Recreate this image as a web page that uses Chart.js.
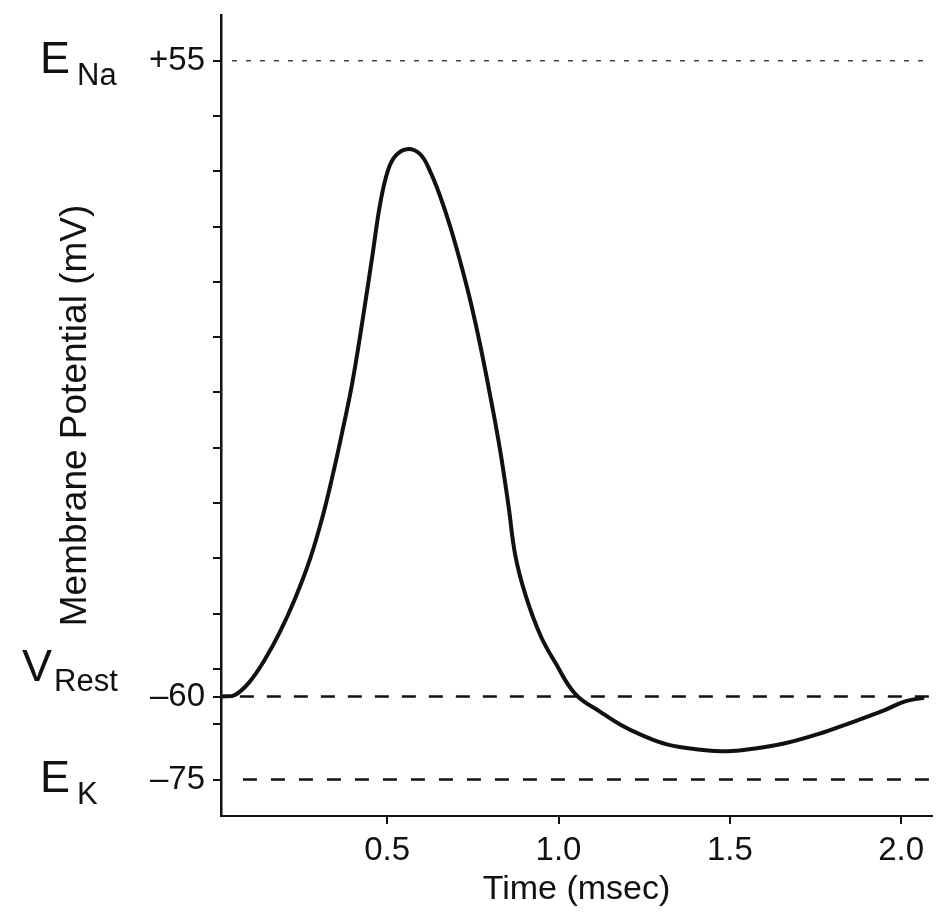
<!DOCTYPE html>
<html><head><meta charset="utf-8">
<script src="https://cdn.jsdelivr.net/npm/chart.js@4/dist/chart.umd.min.js"></script>
<style>html,body{margin:0;padding:0;background:#fff;}</style>
</head><body>
<canvas id="c" width="942" height="915"></canvas>
<script>
// ---- data ----
const timeMs = [0.018,0.056,0.099,0.143,0.187,0.231,0.275,0.310,0.339,0.368,0.398,0.427,0.456,0.480,0.503,0.526,0.558,
  0.596,0.626,0.655,0.684,0.713,0.743,0.772,0.801,0.830,0.854,0.874,0.904,0.947,0.991,1.050,
  1.123,1.181,1.240,1.319,1.415,1.494,1.561,1.658,1.757,1.854,1.950,2.009,2.067];
const membraneMv = [-60,-59.7,-57.3,-53.3,-48.3,-42.3,-35.1,-27.8,-20.5,-12.4,-3.3,7.6,19.4,29.3,35.3,37.9,39.0,
  38.1,34.9,30.4,25.0,18.7,11.5,3.4,-5.7,-15.6,-25.5,-34.5,-41.7,-48.9,-53.9,-59.6,
  -62.8,-65.1,-66.9,-68.7,-69.6,-69.9,-69.5,-68.5,-66.8,-64.7,-62.5,-60.9,-60.2];
const refNames = ['E', 'V', 'E'];
const refSubs = ['Na', 'Rest', 'K'];
const refValues = [55, -60, -75];
const refTickTexts = ['+55', '\u201360', '\u201375'];
const refLineStart = [0.047, 0.07, 0.079];
const refLineEnd = [2.088, 2.088, 2.088];
const xTickValues = [0.5, 1.0, 1.5, 2.0];
const yTickValues = [55,45,35,25,15,5,-5,-15,-25,-35,-45,-55,-60,-65,-75];
const xTitle = 'Time (msec)';
const yTitle = 'Membrane Potential (mV)';

const FAM = "'Liberation Sans', Arial, sans-serif";
const INK = '#111';

const refStyles = [
  {color:'#444', width:1.5, dash:[5,9]},
  {color:INK, width:2.5, dash:[14,13]},
  {color:INK, width:2.5, dash:[14,14]}
];

const datasets = [{
  data: timeMs.map((t,i)=>({x:t, y:membraneMv[i]})),
  borderColor: INK, borderWidth: 4, pointRadius: 0,
  tension: 0.4, fill: false
}];
refValues.forEach((v,i)=>{
  datasets.push({
    data: [{x:refLineStart[i], y:v}, {x:refLineEnd[i], y:v}],
    borderColor: refStyles[i].color, borderWidth: refStyles[i].width,
    borderDash: refStyles[i].dash, pointRadius: 0, fill: false, tension: 0
  });
});

const sideLabels = {
  id: 'sideLabels',
  afterDraw(chart) {
    const ctx = chart.ctx, ys = chart.scales.y;
    ctx.save();
    ctx.fillStyle = INK;
    ctx.textAlign = 'left';
    ctx.textBaseline = 'alphabetic';
    const xs = [40, 22, 40];
    refValues.forEach((v,i)=>{
      const y = ys.getPixelForValue(v);
      ctx.font = '45px ' + FAM;
      const mainDy = i === 1 ? -16 : 12;
      ctx.fillText(refNames[i], xs[i], y + mainDy);
      const w = ctx.measureText(refNames[i]).width;
      ctx.font = '31px ' + FAM;
      const subDy = i === 1 ? -6 : 24;
      ctx.fillText(refSubs[i], xs[i] + w + (i === 1 ? 2 : 7), y + subDy);
    });
    ctx.restore();
  }
};

new Chart(document.getElementById('c'), {
  type: 'line',
  data: { datasets },
  options: {
    responsive: false, animation: false, events: [],
    layout: { padding: { top: 15, right: 10, bottom: 0, left: 0 } },
    plugins: { legend: { display: false }, tooltip: { enabled: false } },
    scales: {
      x: {
        type: 'linear', min: 0.015, max: 2.09,
        afterFit(s) { s.height = 99; s.paddingLeft = 0; s.paddingRight = 0; },
        afterBuildTicks(s) { s.ticks = xTickValues.map(v=>({value:v})); },
        ticks: { callback: v => Number(v).toFixed(1), font: { family: FAM, size: 33 }, color: INK, padding: 7, maxRotation: 0, autoSkip: false },
        grid: { drawOnChartArea: false, drawTicks: true, tickLength: 8, color: INK, lineWidth: 2 },
        border: { color: INK, width: 2 },
        title: { display: true, text: xTitle, font: { family: FAM, size: 34 }, color: INK, padding: { top: 0, bottom: 5 } }
      },
      y: {
        type: 'linear', min: -81.6, max: 63.26,
        afterFit(s) { s.width = 221; s.paddingTop = 0; s.paddingBottom = 0; },
        afterBuildTicks(s) { s.ticks = yTickValues.map(v=>({value:v})); },
        ticks: {
          callback: v => { const k = refValues.indexOf(v); return k >= 0 ? refTickTexts[k] : ''; },
          font: { family: FAM, size: 33 }, color: INK, padding: 8, autoSkip: false
        },
        grid: { drawOnChartArea: false, drawTicks: true, tickLength: 8, color: INK, lineWidth: 2 },
        border: { color: INK, width: 2.5 },
        title: { display: true, text: yTitle, font: { family: FAM, size: 37 }, color: INK, padding: { top: 54, bottom: 0 } }
      }
    }
  },
  plugins: [sideLabels]
});
</script>
</body></html>
